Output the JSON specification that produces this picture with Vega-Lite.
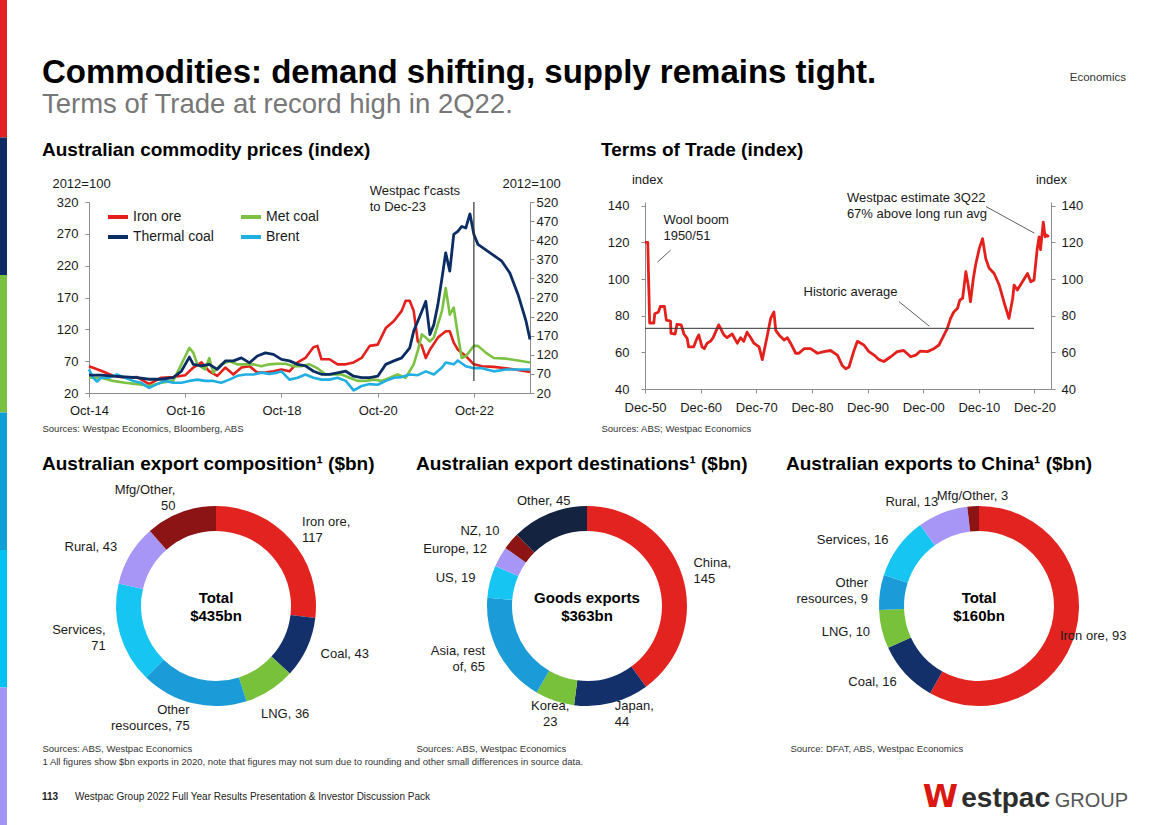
{
"$schema": "https://vega.github.io/schema/vega-lite/v6.json",
"padding": 0,
"background": "white",
"config": {
  "font": "Liberation Sans",
  "view": {"stroke": null},
  "axis": {"labelFont": "Liberation Sans", "labelFontSize": 13, "labelColor": "#1a1a1a", "domainColor": "#8c8c8c", "tickColor": "#8c8c8c", "tickSize": 4, "grid": false, "titleFont": "Liberation Sans", "titleFontSize": 13, "titleFontWeight": "normal", "titleColor": "#1a1a1a"},
  "title": {"font": "Liberation Sans", "fontWeight": "bold", "color": "#000000", "anchor": "start"},
  "text": {"font": "Liberation Sans"}
},
"datasets": {
  "prices": [
    {"d":"2014-10-01","s":"Iron ore","v":62},{"d":"2015-01-01","s":"Iron ore","v":55},{"d":"2015-04-01","s":"Iron ore","v":47},{"d":"2015-07-01","s":"Iron ore","v":44},{"d":"2015-10-01","s":"Iron ore","v":45},{"d":"2016-01-01","s":"Iron ore","v":34},{"d":"2016-04-01","s":"Iron ore","v":44},{"d":"2016-07-01","s":"Iron ore","v":45},{"d":"2016-10-01","s":"Iron ore","v":48},{"d":"2016-12-01","s":"Iron ore","v":60},{"d":"2017-02-01","s":"Iron ore","v":68},{"d":"2017-04-01","s":"Iron ore","v":54},{"d":"2017-06-01","s":"Iron ore","v":47},{"d":"2017-08-01","s":"Iron ore","v":60},{"d":"2017-10-01","s":"Iron ore","v":49},{"d":"2017-12-01","s":"Iron ore","v":60},{"d":"2018-02-01","s":"Iron ore","v":62},{"d":"2018-04-01","s":"Iron ore","v":52},{"d":"2018-06-01","s":"Iron ore","v":52},{"d":"2018-08-01","s":"Iron ore","v":54},{"d":"2018-10-01","s":"Iron ore","v":57},{"d":"2018-12-01","s":"Iron ore","v":54},{"d":"2019-02-01","s":"Iron ore","v":68},{"d":"2019-04-01","s":"Iron ore","v":75},{"d":"2019-06-01","s":"Iron ore","v":92},{"d":"2019-07-01","s":"Iron ore","v":94},{"d":"2019-08-01","s":"Iron ore","v":73},{"d":"2019-10-01","s":"Iron ore","v":73},{"d":"2019-12-01","s":"Iron ore","v":65},{"d":"2020-02-01","s":"Iron ore","v":65},{"d":"2020-04-01","s":"Iron ore","v":68},{"d":"2020-06-01","s":"Iron ore","v":75},{"d":"2020-08-01","s":"Iron ore","v":94},{"d":"2020-10-01","s":"Iron ore","v":96},{"d":"2020-12-01","s":"Iron ore","v":122},{"d":"2021-02-01","s":"Iron ore","v":133},{"d":"2021-04-01","s":"Iron ore","v":149},{"d":"2021-05-01","s":"Iron ore","v":165},{"d":"2021-06-01","s":"Iron ore","v":165},{"d":"2021-07-01","s":"Iron ore","v":149},{"d":"2021-08-01","s":"Iron ore","v":101},{"d":"2021-09-01","s":"Iron ore","v":94},{"d":"2021-10-01","s":"Iron ore","v":75},{"d":"2021-11-01","s":"Iron ore","v":88},{"d":"2022-01-01","s":"Iron ore","v":107},{"d":"2022-03-01","s":"Iron ore","v":117},{"d":"2022-04-01","s":"Iron ore","v":117},{"d":"2022-05-01","s":"Iron ore","v":99},{"d":"2022-06-01","s":"Iron ore","v":88},{"d":"2022-08-01","s":"Iron ore","v":78},{"d":"2022-10-01","s":"Iron ore","v":65},{"d":"2022-12-01","s":"Iron ore","v":62},{"d":"2023-03-01","s":"Iron ore","v":61},{"d":"2023-06-01","s":"Iron ore","v":59},{"d":"2023-09-01","s":"Iron ore","v":56},{"d":"2023-12-01","s":"Iron ore","v":53},
    {"d":"2014-10-01","s":"Met coal","v":44},{"d":"2015-01-01","s":"Met coal","v":44},{"d":"2015-04-01","s":"Met coal","v":39},{"d":"2015-07-01","s":"Met coal","v":36},{"d":"2015-10-01","s":"Met coal","v":34},{"d":"2016-01-01","s":"Met coal","v":31},{"d":"2016-04-01","s":"Met coal","v":36},{"d":"2016-07-01","s":"Met coal","v":39},{"d":"2016-09-01","s":"Met coal","v":65},{"d":"2016-11-01","s":"Met coal","v":91},{"d":"2016-12-01","s":"Met coal","v":83},{"d":"2017-01-01","s":"Met coal","v":65},{"d":"2017-03-01","s":"Met coal","v":57},{"d":"2017-04-01","s":"Met coal","v":75},{"d":"2017-05-01","s":"Met coal","v":52},{"d":"2017-07-01","s":"Met coal","v":65},{"d":"2017-09-01","s":"Met coal","v":70},{"d":"2017-11-01","s":"Met coal","v":65},{"d":"2018-01-01","s":"Met coal","v":65},{"d":"2018-03-01","s":"Met coal","v":65},{"d":"2018-05-01","s":"Met coal","v":62},{"d":"2018-07-01","s":"Met coal","v":65},{"d":"2018-09-01","s":"Met coal","v":66},{"d":"2018-11-01","s":"Met coal","v":66},{"d":"2019-01-01","s":"Met coal","v":62},{"d":"2019-03-01","s":"Met coal","v":62},{"d":"2019-05-01","s":"Met coal","v":65},{"d":"2019-07-01","s":"Met coal","v":59},{"d":"2019-09-01","s":"Met coal","v":49},{"d":"2019-11-01","s":"Met coal","v":49},{"d":"2020-01-01","s":"Met coal","v":49},{"d":"2020-03-01","s":"Met coal","v":44},{"d":"2020-05-01","s":"Met coal","v":39},{"d":"2020-07-01","s":"Met coal","v":39},{"d":"2020-09-01","s":"Met coal","v":41},{"d":"2020-11-01","s":"Met coal","v":39},{"d":"2021-01-01","s":"Met coal","v":44},{"d":"2021-03-01","s":"Met coal","v":49},{"d":"2021-05-01","s":"Met coal","v":44},{"d":"2021-07-01","s":"Met coal","v":65},{"d":"2021-08-01","s":"Met coal","v":86},{"d":"2021-09-01","s":"Met coal","v":112},{"d":"2021-10-01","s":"Met coal","v":107},{"d":"2021-11-01","s":"Met coal","v":101},{"d":"2021-12-01","s":"Met coal","v":107},{"d":"2022-01-01","s":"Met coal","v":128},{"d":"2022-02-01","s":"Met coal","v":149},{"d":"2022-03-01","s":"Met coal","v":185},{"d":"2022-04-01","s":"Met coal","v":143},{"d":"2022-05-01","s":"Met coal","v":154},{"d":"2022-06-01","s":"Met coal","v":112},{"d":"2022-07-01","s":"Met coal","v":75},{"d":"2022-08-01","s":"Met coal","v":78},{"d":"2022-09-01","s":"Met coal","v":86},{"d":"2022-10-01","s":"Met coal","v":94},{"d":"2022-11-01","s":"Met coal","v":94},{"d":"2023-01-01","s":"Met coal","v":83},{"d":"2023-03-01","s":"Met coal","v":75},{"d":"2023-06-01","s":"Met coal","v":74},{"d":"2023-09-01","s":"Met coal","v":71},{"d":"2023-12-01","s":"Met coal","v":68},
    {"d":"2014-10-01","s":"Brent","v":57},{"d":"2014-11-01","s":"Brent","v":44},{"d":"2014-12-01","s":"Brent","v":38},{"d":"2015-01-01","s":"Brent","v":44},{"d":"2015-03-01","s":"Brent","v":44},{"d":"2015-05-01","s":"Brent","v":49},{"d":"2015-07-01","s":"Brent","v":44},{"d":"2015-09-01","s":"Brent","v":39},{"d":"2015-11-01","s":"Brent","v":36},{"d":"2016-01-01","s":"Brent","v":28},{"d":"2016-03-01","s":"Brent","v":34},{"d":"2016-05-01","s":"Brent","v":39},{"d":"2016-07-01","s":"Brent","v":36},{"d":"2016-09-01","s":"Brent","v":36},{"d":"2016-11-01","s":"Brent","v":39},{"d":"2017-01-01","s":"Brent","v":41},{"d":"2017-03-01","s":"Brent","v":39},{"d":"2017-05-01","s":"Brent","v":39},{"d":"2017-07-01","s":"Brent","v":36},{"d":"2017-09-01","s":"Brent","v":41},{"d":"2017-11-01","s":"Brent","v":47},{"d":"2018-01-01","s":"Brent","v":49},{"d":"2018-03-01","s":"Brent","v":49},{"d":"2018-05-01","s":"Brent","v":52},{"d":"2018-07-01","s":"Brent","v":50},{"d":"2018-09-01","s":"Brent","v":52},{"d":"2018-10-01","s":"Brent","v":54},{"d":"2018-12-01","s":"Brent","v":41},{"d":"2019-02-01","s":"Brent","v":44},{"d":"2019-04-01","s":"Brent","v":49},{"d":"2019-06-01","s":"Brent","v":44},{"d":"2019-08-01","s":"Brent","v":41},{"d":"2019-10-01","s":"Brent","v":41},{"d":"2019-12-01","s":"Brent","v":44},{"d":"2020-02-01","s":"Brent","v":39},{"d":"2020-04-01","s":"Brent","v":24},{"d":"2020-06-01","s":"Brent","v":31},{"d":"2020-08-01","s":"Brent","v":34},{"d":"2020-10-01","s":"Brent","v":33},{"d":"2020-12-01","s":"Brent","v":39},{"d":"2021-02-01","s":"Brent","v":44},{"d":"2021-04-01","s":"Brent","v":45},{"d":"2021-06-01","s":"Brent","v":49},{"d":"2021-08-01","s":"Brent","v":48},{"d":"2021-10-01","s":"Brent","v":54},{"d":"2021-12-01","s":"Brent","v":49},{"d":"2022-02-01","s":"Brent","v":60},{"d":"2022-03-01","s":"Brent","v":68},{"d":"2022-05-01","s":"Brent","v":65},{"d":"2022-06-01","s":"Brent","v":71},{"d":"2022-08-01","s":"Brent","v":62},{"d":"2022-10-01","s":"Brent","v":59},{"d":"2022-12-01","s":"Brent","v":59},{"d":"2023-03-01","s":"Brent","v":54},{"d":"2023-06-01","s":"Brent","v":57},{"d":"2023-09-01","s":"Brent","v":57},{"d":"2023-12-01","s":"Brent","v":57},
    {"d":"2014-10-01","s":"Thermal coal","v":67},{"d":"2015-01-01","s":"Thermal coal","v":67},{"d":"2015-04-01","s":"Thermal coal","v":64},{"d":"2015-07-01","s":"Thermal coal","v":62},{"d":"2015-10-01","s":"Thermal coal","v":60},{"d":"2016-01-01","s":"Thermal coal","v":56},{"d":"2016-04-01","s":"Thermal coal","v":56},{"d":"2016-07-01","s":"Thermal coal","v":60},{"d":"2016-09-01","s":"Thermal coal","v":77},{"d":"2016-11-01","s":"Thermal coal","v":114},{"d":"2016-12-01","s":"Thermal coal","v":95},{"d":"2017-02-01","s":"Thermal coal","v":91},{"d":"2017-04-01","s":"Thermal coal","v":95},{"d":"2017-06-01","s":"Thermal coal","v":82},{"d":"2017-08-01","s":"Thermal coal","v":104},{"d":"2017-10-01","s":"Thermal coal","v":104},{"d":"2017-12-01","s":"Thermal coal","v":112},{"d":"2018-02-01","s":"Thermal coal","v":99},{"d":"2018-04-01","s":"Thermal coal","v":117},{"d":"2018-06-01","s":"Thermal coal","v":125},{"d":"2018-08-01","s":"Thermal coal","v":121},{"d":"2018-10-01","s":"Thermal coal","v":108},{"d":"2018-12-01","s":"Thermal coal","v":104},{"d":"2019-02-01","s":"Thermal coal","v":95},{"d":"2019-04-01","s":"Thermal coal","v":91},{"d":"2019-06-01","s":"Thermal coal","v":77},{"d":"2019-08-01","s":"Thermal coal","v":69},{"d":"2019-10-01","s":"Thermal coal","v":69},{"d":"2019-12-01","s":"Thermal coal","v":73},{"d":"2020-02-01","s":"Thermal coal","v":77},{"d":"2020-04-01","s":"Thermal coal","v":64},{"d":"2020-06-01","s":"Thermal coal","v":60},{"d":"2020-08-01","s":"Thermal coal","v":60},{"d":"2020-10-01","s":"Thermal coal","v":64},{"d":"2020-12-01","s":"Thermal coal","v":95},{"d":"2021-02-01","s":"Thermal coal","v":104},{"d":"2021-04-01","s":"Thermal coal","v":112},{"d":"2021-06-01","s":"Thermal coal","v":138},{"d":"2021-07-01","s":"Thermal coal","v":182},{"d":"2021-08-01","s":"Thermal coal","v":208},{"d":"2021-09-01","s":"Thermal coal","v":234},{"d":"2021-10-01","s":"Thermal coal","v":260},{"d":"2021-11-01","s":"Thermal coal","v":173},{"d":"2021-12-01","s":"Thermal coal","v":199},{"d":"2022-01-01","s":"Thermal coal","v":252},{"d":"2022-02-01","s":"Thermal coal","v":321},{"d":"2022-03-01","s":"Thermal coal","v":387},{"d":"2022-04-01","s":"Thermal coal","v":339},{"d":"2022-05-01","s":"Thermal coal","v":435},{"d":"2022-06-01","s":"Thermal coal","v":443},{"d":"2022-07-01","s":"Thermal coal","v":456},{"d":"2022-08-01","s":"Thermal coal","v":452},{"d":"2022-09-01","s":"Thermal coal","v":489},{"d":"2022-10-01","s":"Thermal coal","v":435},{"d":"2022-11-01","s":"Thermal coal","v":409},{"d":"2023-02-01","s":"Thermal coal","v":387},{"d":"2023-05-01","s":"Thermal coal","v":365},{"d":"2023-07-01","s":"Thermal coal","v":334},{"d":"2023-09-01","s":"Thermal coal","v":278},{"d":"2023-11-01","s":"Thermal coal","v":208},{"d":"2023-12-01","s":"Thermal coal","v":160}
  ],
  "tot": [
    {"d":"1950-12-01","v":120},{"d":"1951-06-01","v":120},{"d":"1951-10-01","v":76},{"d":"1952-07-01","v":76},{"d":"1952-09-01","v":81},{"d":"1953-05-01","v":82},{"d":"1953-09-01","v":85},{"d":"1954-06-01","v":85},{"d":"1954-10-01","v":77.6},{"d":"1955-07-01","v":77},{"d":"1955-08-01","v":70.4},{"d":"1956-05-01","v":70},{"d":"1956-09-01","v":75.3},{"d":"1957-06-01","v":75},{"d":"1957-12-01","v":70},{"d":"1958-07-01","v":67.6},{"d":"1958-10-01","v":63},{"d":"1959-09-01","v":63},{"d":"1960-04-01","v":67.6},{"d":"1960-08-01","v":69.5},{"d":"1961-03-01","v":63},{"d":"1961-08-01","v":62},{"d":"1962-02-01","v":65},{"d":"1962-09-01","v":66},{"d":"1963-03-01","v":68},{"d":"1964-03-01","v":75},{"d":"1965-02-01","v":69.5},{"d":"1965-09-01","v":68},{"d":"1966-08-01","v":70},{"d":"1967-07-01","v":65},{"d":"1968-02-01","v":68},{"d":"1968-09-01","v":66},{"d":"1969-04-01","v":71},{"d":"1969-12-01","v":68},{"d":"1970-07-01","v":65},{"d":"1971-06-01","v":63},{"d":"1972-01-01","v":56},{"d":"1972-12-01","v":69.5},{"d":"1973-07-01","v":78.5},{"d":"1974-02-01","v":82},{"d":"1974-06-01","v":72},{"d":"1975-01-01","v":69.5},{"d":"1975-12-01","v":66.7},{"d":"1976-07-01","v":68},{"d":"1977-02-01","v":65},{"d":"1978-01-01","v":59.5},{"d":"1978-08-01","v":59.5},{"d":"1979-07-01","v":62},{"d":"1980-09-01","v":62},{"d":"1981-12-01","v":59.5},{"d":"1983-02-01","v":60.4},{"d":"1984-04-01","v":61},{"d":"1985-07-01","v":58.5},{"d":"1986-05-01","v":53},{"d":"1987-01-01","v":51},{"d":"1987-08-01","v":52},{"d":"1988-06-01","v":60.4},{"d":"1989-02-01","v":66},{"d":"1990-04-01","v":64},{"d":"1991-03-01","v":60.4},{"d":"1992-02-01","v":58.5},{"d":"1993-01-01","v":56},{"d":"1993-11-01","v":55},{"d":"1995-02-01","v":57.6},{"d":"1996-04-01","v":60.4},{"d":"1997-06-01","v":61},{"d":"1998-09-01","v":57.6},{"d":"1999-08-01","v":58.5},{"d":"2000-06-01","v":60.7},{"d":"2001-09-01","v":60.4},{"d":"2002-11-01","v":62},{"d":"2003-10-01","v":64},{"d":"2004-09-01","v":69.5},{"d":"2005-04-01","v":73},{"d":"2005-11-01","v":78.5},{"d":"2006-06-01","v":82},{"d":"2007-02-01","v":84},{"d":"2007-07-01","v":88.5},{"d":"2008-01-01","v":89.5},{"d":"2008-08-01","v":104},{"d":"2009-01-01","v":96.7},{"d":"2009-06-01","v":87.6},{"d":"2009-12-01","v":100},{"d":"2010-05-01","v":107.6},{"d":"2011-01-01","v":116.7},{"d":"2011-08-01","v":122},{"d":"2012-03-01","v":111},{"d":"2012-10-01","v":106},{"d":"2013-09-01","v":103},{"d":"2014-08-01","v":96.7},{"d":"2015-06-01","v":87.6},{"d":"2016-05-01","v":78.5},{"d":"2017-01-01","v":89.5},{"d":"2017-04-01","v":96.7},{"d":"2017-11-01","v":94},{"d":"2018-10-01","v":98.5},{"d":"2019-09-01","v":103},{"d":"2020-04-01","v":98.5},{"d":"2020-11-01","v":99.5},{"d":"2021-06-01","v":116.7},{"d":"2021-10-01","v":123},{"d":"2022-01-01","v":116},{"d":"2022-07-01","v":131},{"d":"2022-11-01","v":123},{"d":"2023-02-01","v":124},{"d":"2023-07-01","v":123}
  ],
  "comp": [
    {"k":1,"cat":"Iron ore","v":117,"label":"Iron ore,\n117"},
    {"k":2,"cat":"Coal","v":43,"label":"Coal, 43"},
    {"k":3,"cat":"LNG","v":36,"label":"LNG, 36"},
    {"k":4,"cat":"Other resources","v":75,"label":"Other\nresources, 75"},
    {"k":5,"cat":"Services","v":71,"label":"Services,\n71"},
    {"k":6,"cat":"Rural","v":43,"label":"Rural, 43"},
    {"k":7,"cat":"Mfg/Other","v":50,"label":"Mfg/Other,\n50"}
  ],
  "dest": [
    {"k":1,"cat":"China","v":145,"label":"China,\n145"},
    {"k":2,"cat":"Japan","v":44,"label":"Japan,\n44"},
    {"k":3,"cat":"Korea","v":23,"label":"Korea,\n23"},
    {"k":4,"cat":"Asia, rest of","v":65,"label":"Asia, rest\nof, 65"},
    {"k":5,"cat":"US","v":19,"label":"US, 19"},
    {"k":6,"cat":"Europe","v":12,"label":"Europe, 12"},
    {"k":7,"cat":"NZ","v":10,"label":"NZ, 10"},
    {"k":8,"cat":"Other","v":45,"label":"Other, 45"}
  ],
  "china": [
    {"k":1,"cat":"Iron ore","v":93,"label":"Iron ore, 93"},
    {"k":2,"cat":"Coal","v":16,"label":"Coal, 16"},
    {"k":3,"cat":"LNG","v":10,"label":"LNG, 10"},
    {"k":4,"cat":"Other resources","v":9,"label":"Other\nresources, 9"},
    {"k":5,"cat":"Services","v":16,"label":"Services, 16"},
    {"k":6,"cat":"Rural","v":13,"label":"Rural, 13"},
    {"k":7,"cat":"Mfg/Other","v":3,"label":"Mfg/Other, 3"}
  ]
},
"spacing": 35,
"resolve": {"scale": {"color": "independent", "x": "independent", "y": "independent"}, "legend": {"color": "independent"}},
"hconcat": [
  {
    "width": 7, "height": 825,
    "data": {"values": [{"s":"a"},{"s":"b"},{"s":"c"},{"s":"d"},{"s":"e"},{"s":"f"}]},
    "mark": {"type": "bar"},
    "encoding": {
      "y": {"field": "s", "type": "nominal", "axis": null, "scale": {"paddingInner": 0, "paddingOuter": 0}},
      "x": {"datum": 1, "type": "quantitative", "scale": {"domain": [0, 1]}, "axis": null},
      "color": {"field": "s", "type": "nominal", "legend": null, "scale": {"domain": ["a","b","c","d","e","f"], "range": ["#e31e24","#0d2a63","#7ac143","#0f9fd6","#00c2f0","#a294f6"]}}
    }
  },
  {
    "spacing": 15,
    "resolve": {"scale": {"color": "independent", "x": "independent", "y": "independent"}, "legend": {"color": "independent"}},
    "vconcat": [
      {
        "spacing": 22,
        "resolve": {"scale": {"color": "independent", "x": "independent", "y": "independent"}, "legend": {"color": "independent"}},
        "vconcat": [
          {
            "width": 1037, "height": 119,
            "title": {"text": "Commodities: demand shifting, supply remains tight.", "subtitle": "Terms of Trade at record high in 2Q22.", "fontSize": 33, "subtitleFontSize": 27.5, "subtitleColor": "#777777", "subtitleFont": "Liberation Sans", "subtitleFontWeight": "normal", "subtitlePadding": 1, "offset": -118.5, "frame": "group", "anchor": "start", "dx": -47},
            "data": {"values": [{"t": "Economics"}]},
            "mark": {"type": "text", "align": "right", "baseline": "middle", "fontSize": 11.5, "color": "#333333"},
            "encoding": {
              "text": {"field": "t"},
              "x": {"datum": 1, "type": "quantitative", "scale": {"domain": [0, 1]}, "axis": null},
              "y": {"datum": 0.345, "type": "quantitative", "scale": {"domain": [0, 1]}, "axis": null}
            }
          },
          {
            "bounds": "flush",
            "spacing": 115,
            "resolve": {"scale": {"color": "independent", "x": "independent", "y": "independent"}, "legend": {"color": "independent"}},
            "hconcat": [
              {
                "width": 441, "height": 191,
                "title": {"text": "Australian commodity prices (index)", "fontSize": 19, "offset": 17, "frame": "bounds", "anchor": "start"},
                "layer": [
                  {
                    "data": {"name": "prices"},
                    "transform": [{"filter": "datum.s !== 'Thermal coal'"}],
                    "mark": {"type": "line", "strokeWidth": 2.6, "strokeJoin": "round"},
                    "encoding": {
                      "x": {"field": "d", "type": "temporal",
                        "scale": {"domain": [{"year": 2014, "month": 10, "date": 1}, {"year": 2023, "month": 12, "date": 1}]},
                        "axis": {"values": [{"year": 2014, "month": 10, "date": 1}, {"year": 2016, "month": 10, "date": 1}, {"year": 2018, "month": 10, "date": 1}, {"year": 2020, "month": 10, "date": 1}, {"year": 2022, "month": 10, "date": 1}],
                          "format": "%b-%y", "labelFlush": false, "labelOverlap": false, "labelPadding": 7,
                          "title": "Sources: Westpac Economics, Bloomberg, ABS", "titleFontSize": 9.5, "titleColor": "#333333", "titleX": -47, "titleY": 38, "titleAlign": "left", "titleBaseline": "alphabetic"}},
                      "y": {"field": "v", "type": "quantitative", "scale": {"domain": [20, 320], "nice": false, "zero": false},
                        "axis": {"orient": "left", "values": [20, 70, 120, 170, 220, 270, 320], "labelPadding": 7, "title": "2012=100", "titleAngle": 0, "titleX": -8, "titleY": -15, "titleAlign": "center", "titleBaseline": "alphabetic"}},
                      "color": {"field": "s", "type": "nominal",
                        "scale": {"domain": ["Iron ore", "Met coal", "Thermal coal", "Brent"], "range": ["#e3201b", "#7cc242", "#0b2d63", "#21aee3"]},
                        "legend": {"orient": "none", "legendX": 17, "legendY": 3, "columns": 2, "direction": "horizontal", "title": null, "symbolType": "stroke", "symbolSize": 400, "symbolStrokeWidth": 4, "labelFontSize": 14, "labelColor": "#1a1a1a", "rowPadding": -2, "columnPadding": 19, "labelOffset": 3, "padding": 0}}
                    }
                  },
                  {
                    "data": {"name": "prices"},
                    "transform": [{"filter": "datum.s === 'Thermal coal'"}],
                    "mark": {"type": "line", "strokeWidth": 2.8, "strokeJoin": "round"},
                    "encoding": {
                      "x": {"field": "d", "type": "temporal"},
                      "y": {"field": "v", "type": "quantitative", "scale": {"domain": [20, 520], "nice": false, "zero": false},
                        "axis": {"orient": "right", "values": [20, 70, 120, 170, 220, 270, 320, 370, 420, 470, 520], "labelPadding": 2, "title": "2012=100", "titleAngle": 0, "titleX": 1, "titleY": -15, "titleAlign": "center", "titleBaseline": "alphabetic"}},
                      "color": {"field": "s", "type": "nominal", "legend": null}
                    }
                  },
                  {
                    "data": {"values": [{}]},
                    "mark": {"type": "rule", "color": "#333333", "strokeWidth": 1.2},
                    "encoding": {
                      "x": {"datum": {"year": 2022, "month": 10, "date": 1}, "type": "temporal"},
                      "y": {"datum": 320, "type": "quantitative", "scale": {"domain": [20, 320], "nice": false, "zero": false}, "axis": null},
                      "y2": {"datum": 39}
                    }
                  },
                  {
                    "data": {"values": [{"t": "Westpac f'casts\nto Dec-23"}]},
                    "mark": {"type": "text", "align": "left", "baseline": "top", "fontSize": 13, "lineBreak": "\n", "lineHeight": 16, "color": "#1a1a1a"},
                    "encoding": {
                      "x": {"datum": {"year": 2020, "month": 8, "date": 1}, "type": "temporal"},
                      "y": {"datum": 346.7, "type": "quantitative", "scale": {"domain": [20, 320], "nice": false, "zero": false}, "axis": null},
                      "text": {"field": "t"}
                    }
                  }
                ],
                "resolve": {"scale": {"y": "independent"}}
              },
              {
                "width": 406, "height": 187,
                "title": {"text": "Terms of Trade (index)", "fontSize": 19, "offset": 13, "frame": "bounds", "anchor": "start"},
                "layer": [
                  {
                    "data": {"name": "tot"},
                    "mark": {"type": "line", "strokeWidth": 2.8, "strokeJoin": "round", "color": "#e3201b"},
                    "encoding": {
                      "x": {"field": "d", "type": "temporal",
                        "scale": {"domain": [{"year": 1950, "month": 12, "date": 1}, {"year": 2023, "month": 11, "date": 20}]},
                        "axis": {"values": [{"year": 1950, "month": 12, "date": 1}, {"year": 1960, "month": 12, "date": 1}, {"year": 1970, "month": 12, "date": 1}, {"year": 1980, "month": 12, "date": 1}, {"year": 1990, "month": 12, "date": 1}, {"year": 2000, "month": 12, "date": 1}, {"year": 2010, "month": 12, "date": 1}, {"year": 2020, "month": 12, "date": 1}],
                          "format": "%b-%y", "labelFlush": false, "labelOverlap": false, "labelPadding": 8,
                          "title": "Sources: ABS; Westpac Economics", "titleFontSize": 9.5, "titleColor": "#333333", "titleX": -44, "titleY": 42, "titleAlign": "left", "titleBaseline": "alphabetic"}},
                      "y": {"field": "v", "type": "quantitative", "scale": {"domain": [40, 142], "nice": false, "zero": false},
                        "axis": {"orient": "left", "values": [40, 60, 80, 100, 120, 140], "labelPadding": 12, "title": "index", "titleAngle": 0, "titleX": 2, "titleY": -19, "titleAlign": "center", "titleBaseline": "alphabetic"}}
                    }
                  },
                  {
                    "data": {"values": [{}]},
                    "mark": {"type": "rule", "color": "#333333", "strokeWidth": 1},
                    "encoding": {
                      "x": {"datum": {"year": 1950, "month": 12, "date": 1}, "type": "temporal"},
                      "x2": {"datum": {"year": 2020, "month": 11, "date": 1}},
                      "y": {"datum": 73.1, "type": "quantitative", "axis": null}
                    }
                  },
                  {
                    "data": {"values": [{}]},
                    "mark": {"type": "rule", "color": "#333333", "strokeWidth": 0.8},
                    "encoding": {
                      "x": {"datum": {"year": 1955, "month": 7, "date": 15}, "type": "temporal"},
                      "x2": {"datum": {"year": 1953, "month": 3, "date": 15}},
                      "y": {"datum": 115.8, "type": "quantitative", "axis": null},
                      "y2": {"datum": 109.3}
                    }
                  },
                  {
                    "data": {"values": [{}]},
                    "mark": {"type": "rule", "color": "#333333", "strokeWidth": 0.8},
                    "encoding": {
                      "x": {"datum": {"year": 1996, "month": 8, "date": 1}, "type": "temporal"},
                      "x2": {"datum": {"year": 2002, "month": 1, "date": 1}},
                      "y": {"datum": 87.6, "type": "quantitative", "axis": null},
                      "y2": {"datum": 74.3}
                    }
                  },
                  {
                    "data": {"values": [{}]},
                    "mark": {"type": "rule", "color": "#333333", "strokeWidth": 0.8},
                    "encoding": {
                      "x": {"datum": {"year": 2012, "month": 3, "date": 15}, "type": "temporal"},
                      "x2": {"datum": {"year": 2020, "month": 11, "date": 25}},
                      "y": {"datum": 139.5, "type": "quantitative", "axis": null},
                      "y2": {"datum": 125}
                    }
                  },
                  {
                    "data": {"values": [{"t": "Wool boom\n1950/51"}]},
                    "mark": {"type": "text", "align": "left", "baseline": "top", "fontSize": 13, "lineBreak": "\n", "lineHeight": 16, "color": "#1a1a1a"},
                    "encoding": {
                      "x": {"datum": {"year": 1954, "month": 3, "date": 25}, "type": "temporal"},
                      "y": {"datum": 135.4, "type": "quantitative", "axis": null},
                      "text": {"field": "t"}
                    }
                  },
                  {
                    "data": {"values": [{"t": "Historic average"}]},
                    "mark": {"type": "text", "align": "left", "baseline": "middle", "fontSize": 13, "color": "#1a1a1a"},
                    "encoding": {
                      "x": {"datum": {"year": 1979, "month": 5, "date": 28}, "type": "temporal"},
                      "y": {"datum": 93.1, "type": "quantitative", "axis": null},
                      "text": {"field": "t"}
                    }
                  },
                  {
                    "data": {"values": [{"t": "Westpac estimate 3Q22\n67% above long run avg"}]},
                    "mark": {"type": "text", "align": "left", "baseline": "top", "fontSize": 13, "lineBreak": "\n", "lineHeight": 16, "color": "#1a1a1a"},
                    "encoding": {
                      "x": {"datum": {"year": 1987, "month": 3, "date": 15}, "type": "temporal"},
                      "y": {"datum": 147.5, "type": "quantitative", "axis": null},
                      "text": {"field": "t"}
                    }
                  },
                  {
                    "data": {"name": "tot"},
                    "mark": {"type": "line", "strokeOpacity": 0},
                    "encoding": {
                      "x": {"field": "d", "type": "temporal"},
                      "y": {"field": "v", "type": "quantitative", "scale": {"domain": [40, 142], "nice": false, "zero": false},
                        "axis": {"orient": "right", "values": [40, 60, 80, 100, 120, 140], "labelPadding": 6, "title": "index", "titleAngle": 0, "titleX": 0, "titleY": -19, "titleAlign": "center", "titleBaseline": "alphabetic"}}
                    }
                  }
                ],
                "resolve": {"axis": {"y": "independent"}}
              }
            ]
          },
          {
            "bounds": "flush",
            "spacing": 10,
            "resolve": {"scale": {"color": "independent", "theta": "independent", "x": "independent", "y": "independent"}, "legend": {"color": "independent"}},
            "hconcat": [
              {
                "width": 254, "height": 290,
                "title": {"text": "Australian export composition¹ ($bn)", "fontSize": 19, "offset": -13, "frame": "group", "anchor": "start", "dx": -47},
                "data": {"name": "comp"},
                "encoding": {
                  "theta": {"field": "v", "type": "quantitative", "stack": true},
                  "order": {"field": "k", "type": "quantitative"}
                },
                "layer": [
                  {
                    "mark": {"type": "arc", "innerRadius": 75, "outerRadius": 100},
                    "encoding": {
                      "color": {"field": "cat", "type": "nominal", "legend": null,
                        "scale": {"domain": ["Iron ore", "Coal", "LNG", "Other resources", "Services", "Rural", "Mfg/Other"], "range": ["#e3231f", "#13306b", "#78c13b", "#1b9bd7", "#17c5f2", "#a796f6", "#8c1414"]}}
                    }
                  },
                  {
                    "mark": {"type": "text", "radius": 115, "align": "left", "dy": -8, "fontSize": 13, "lineBreak": "\n", "lineHeight": 16, "color": "#1a1a1a"},
                    "encoding": {"text": {"condition": {"test": "datum.k == 1", "field": "label"}, "value": ""}}
                  },
                  {
                    "mark": {"type": "text", "radius": 115, "align": "left", "fontSize": 13, "color": "#1a1a1a"},
                    "encoding": {"text": {"condition": {"test": "datum.k == 2", "field": "label"}, "value": ""}}
                  },
                  {
                    "mark": {"type": "text", "radius": 128, "align": "center", "fontSize": 13, "color": "#1a1a1a"},
                    "encoding": {"text": {"condition": {"test": "datum.k == 3", "field": "label"}, "value": ""}}
                  },
                  {
                    "mark": {"type": "text", "radius": 115, "align": "right", "dy": -8, "fontSize": 13, "lineBreak": "\n", "lineHeight": 16, "color": "#1a1a1a"},
                    "encoding": {"text": {"condition": {"test": "datum.k == 4 || datum.k == 5 || datum.k == 7", "field": "label"}, "value": ""}}
                  },
                  {
                    "mark": {"type": "text", "radius": 115, "align": "right", "fontSize": 13, "color": "#1a1a1a"},
                    "encoding": {"text": {"condition": {"test": "datum.k == 6", "field": "label"}, "value": ""}}
                  },
                  {
                    "data": {"values": [{"t": "Total\n$435bn"}]},
                    "mark": {"type": "text", "fontSize": 15, "fontWeight": "bold", "lineBreak": "\n", "lineHeight": 18, "dy": -8, "color": "#000000"},
                    "encoding": {"text": {"field": "t"}, "theta": null, "order": null}
                  },
                  {
                    "data": {"values": [{}]},
                    "mark": {"type": "rule", "strokeOpacity": 0},
                    "encoding": {
                      "theta": null, "order": null,
                      "x": {"datum": 0, "type": "quantitative", "scale": {"domain": [0, 1]},
                        "axis": {"domain": false, "ticks": false, "labels": false, "grid": false,
                          "title": ["Sources: ABS, Westpac Economics", "1 All figures show $bn exports in 2020, note that figures may not sum due to rounding and other small differences in source data."],
                          "titleX": -47, "titleY": -8, "titleAlign": "left", "titleBaseline": "top", "titleFontSize": 9.5, "titleLineHeight": 13, "titleColor": "#333333"}}
                    }
                  }
                ]
              },
              {
                "width": 468, "height": 290,
                "title": {"text": "Australian export destinations¹ ($bn)", "fontSize": 19, "offset": -13, "frame": "group", "anchor": "start", "dx": 63},
                "data": {"name": "dest"},
                "encoding": {
                  "theta": {"field": "v", "type": "quantitative", "stack": true},
                  "order": {"field": "k", "type": "quantitative"}
                },
                "layer": [
                  {
                    "mark": {"type": "arc", "innerRadius": 75, "outerRadius": 100},
                    "encoding": {
                      "color": {"field": "cat", "type": "nominal", "legend": null,
                        "scale": {"domain": ["China", "Japan", "Korea", "Asia, rest of", "US", "Europe", "NZ", "Other"], "range": ["#e3231f", "#13306b", "#78c13b", "#1b9bd7", "#17c5f2", "#a796f6", "#8c1414", "#14233f"]}}
                    }
                  },
                  {
                    "mark": {"type": "text", "radius": 112, "align": "left", "dy": -8, "fontSize": 13, "lineBreak": "\n", "lineHeight": 16, "color": "#1a1a1a"},
                    "encoding": {"text": {"condition": {"test": "datum.k <= 2", "field": "label"}, "value": ""}}
                  },
                  {
                    "mark": {"type": "text", "radius": 114, "align": "center", "dy": -8, "fontSize": 13, "lineBreak": "\n", "lineHeight": 16, "color": "#1a1a1a"},
                    "encoding": {"text": {"condition": {"test": "datum.k == 3", "field": "label"}, "value": ""}}
                  },
                  {
                    "mark": {"type": "text", "radius": 114, "align": "center", "fontSize": 13, "color": "#1a1a1a"},
                    "encoding": {"text": {"condition": {"test": "datum.k == 8", "field": "label"}, "value": ""}}
                  },
                  {
                    "mark": {"type": "text", "radius": 115, "align": "right", "dy": -8, "fontSize": 13, "lineBreak": "\n", "lineHeight": 16, "color": "#1a1a1a"},
                    "encoding": {"text": {"condition": {"test": "datum.k == 4", "field": "label"}, "value": ""}}
                  },
                  {
                    "mark": {"type": "text", "radius": 115, "align": "right", "fontSize": 13, "color": "#1a1a1a"},
                    "encoding": {"text": {"condition": {"test": "datum.k >= 5 && datum.k <= 7", "field": "label"}, "value": ""}}
                  },
                  {
                    "data": {"values": [{"t": "Goods exports\n$363bn"}]},
                    "mark": {"type": "text", "fontSize": 15, "fontWeight": "bold", "lineBreak": "\n", "lineHeight": 18, "dy": -8, "color": "#000000"},
                    "encoding": {"text": {"field": "t"}, "theta": null, "order": null}
                  },
                  {
                    "data": {"values": [{}]},
                    "mark": {"type": "rule", "strokeOpacity": 0},
                    "encoding": {
                      "theta": null, "order": null,
                      "x": {"datum": 0, "type": "quantitative", "scale": {"domain": [0, 1]},
                        "axis": {"domain": false, "ticks": false, "labels": false, "grid": false,
                          "title": "Sources: ABS, Westpac Economics",
                          "titleX": 63, "titleY": -8, "titleAlign": "left", "titleBaseline": "top", "titleFontSize": 9.5, "titleColor": "#333333"}}
                    }
                  }
                ]
              },
              {
                "width": 296, "height": 290,
                "title": {"text": "Australian exports to China¹ ($bn)", "fontSize": 19, "offset": -13, "frame": "group", "anchor": "start", "dx": -45},
                "data": {"name": "china"},
                "encoding": {
                  "theta": {"field": "v", "type": "quantitative", "stack": true},
                  "order": {"field": "k", "type": "quantitative"}
                },
                "layer": [
                  {
                    "mark": {"type": "arc", "innerRadius": 75, "outerRadius": 100},
                    "encoding": {
                      "color": {"field": "cat", "type": "nominal", "legend": null,
                        "scale": {"domain": ["Iron ore", "Coal", "LNG", "Other resources", "Services", "Rural", "Mfg/Other"], "range": ["#e3231f", "#13306b", "#78c13b", "#1b9bd7", "#17c5f2", "#a796f6", "#8c1414"]}}
                    }
                  },
                  {
                    "mark": {"type": "text", "radius": 118, "align": "center", "fontSize": 13, "color": "#1a1a1a"},
                    "encoding": {"text": {"condition": {"test": "datum.k == 1", "field": "label"}, "value": ""}}
                  },
                  {
                    "mark": {"type": "text", "radius": 112, "align": "right", "fontSize": 13, "color": "#1a1a1a"},
                    "encoding": {"text": {"condition": {"test": "datum.k == 2 || datum.k == 3 || datum.k == 5 || datum.k == 6", "field": "label"}, "value": ""}}
                  },
                  {
                    "mark": {"type": "text", "radius": 112, "align": "right", "dy": -8, "fontSize": 13, "lineBreak": "\n", "lineHeight": 16, "color": "#1a1a1a"},
                    "encoding": {"text": {"condition": {"test": "datum.k == 4", "field": "label"}, "value": ""}}
                  },
                  {
                    "mark": {"type": "text", "radius": 110, "align": "center", "fontSize": 13, "color": "#1a1a1a"},
                    "encoding": {"text": {"condition": {"test": "datum.k == 7", "field": "label"}, "value": ""}}
                  },
                  {
                    "data": {"values": [{"t": "Total\n$160bn"}]},
                    "mark": {"type": "text", "fontSize": 15, "fontWeight": "bold", "lineBreak": "\n", "lineHeight": 18, "dy": -8, "color": "#000000"},
                    "encoding": {"text": {"field": "t"}, "theta": null, "order": null}
                  },
                  {
                    "data": {"values": [{}]},
                    "mark": {"type": "rule", "strokeOpacity": 0},
                    "encoding": {
                      "theta": null, "order": null,
                      "x": {"datum": 0, "type": "quantitative", "scale": {"domain": [0, 1]},
                        "axis": {"domain": false, "ticks": false, "labels": false, "grid": false,
                          "title": "Source: DFAT, ABS, Westpac Economics",
                          "titleX": -41, "titleY": -8, "titleAlign": "left", "titleBaseline": "top", "titleFontSize": 9.5, "titleColor": "#333333"}}
                    }
                  }
                ]
              }
            ]
          }
        ]
      },
      {
        "width": 1037, "height": 26,
        "layer": [
          {
            "data": {"values": [{"t": "113"}]},
            "mark": {"type": "text", "align": "left", "baseline": "middle", "fontSize": 10, "fontWeight": "bold", "color": "#222222", "dx": -47},
            "encoding": {
              "x": {"datum": 0, "type": "quantitative", "scale": {"domain": [0, 1]}, "axis": null},
              "y": {"datum": 0.385, "type": "quantitative", "scale": {"domain": [0, 1]}, "axis": null},
              "text": {"field": "t"}
            }
          },
          {
            "data": {"values": [{"t": "Westpac Group 2022 Full Year Results Presentation & Investor Discussion Pack"}]},
            "mark": {"type": "text", "align": "left", "baseline": "middle", "fontSize": 10, "color": "#222222", "dx": -14},
            "encoding": {
              "x": {"datum": 0, "type": "quantitative", "axis": null},
              "y": {"datum": 0.385, "type": "quantitative", "axis": null},
              "text": {"field": "t"}
            }
          },
          {
            "data": {"values": [{"t": "W"}]},
            "mark": {"type": "text", "align": "right", "baseline": "alphabetic", "fontSize": 32, "fontWeight": "bold", "font": "DejaVu Sans", "color": "#da1710", "dx": -168},
            "encoding": {
              "x": {"datum": 1, "type": "quantitative", "axis": null},
              "y": {"datum": 0, "type": "quantitative", "axis": null},
              "text": {"field": "t"}
            }
          },
          {
            "data": {"values": [{"t": "estpac"}]},
            "mark": {"type": "text", "align": "right", "baseline": "alphabetic", "fontSize": 28, "fontWeight": "bold", "color": "#2d2d2d", "dx": -76},
            "encoding": {
              "x": {"datum": 1, "type": "quantitative", "axis": null},
              "y": {"datum": 0, "type": "quantitative", "axis": null},
              "text": {"field": "t"}
            }
          },
          {
            "data": {"values": [{"t": "GROUP"}]},
            "mark": {"type": "text", "align": "right", "baseline": "alphabetic", "fontSize": 20, "color": "#555555", "dx": 2},
            "encoding": {
              "x": {"datum": 1, "type": "quantitative", "axis": null},
              "y": {"datum": 0, "type": "quantitative", "axis": null},
              "text": {"field": "t"}
            }
          }
        ]
      }
    ]
  }
]
}
